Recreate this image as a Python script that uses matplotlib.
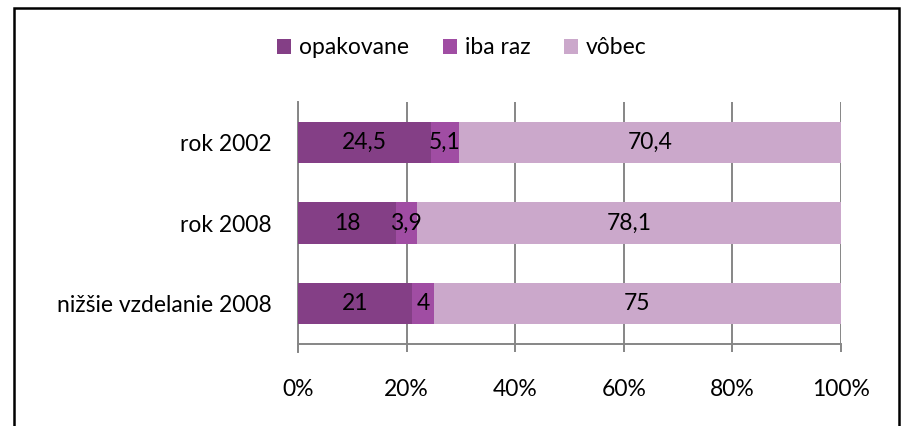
import matplotlib
matplotlib.use("Agg")
import matplotlib.pyplot as plt
from matplotlib.patches import Rectangle, Patch
import numpy as np

categories = ["rok 2002", "rok 2008", "nižšie vzdelanie 2008"]
series_names = ["opakovane", "iba raz", "vôbec"]
opakovane = [24.5, 18, 21]
iba_raz = [5.1, 3.9, 4]
vobec = [70.4, 78.1, 75]
labels_opakovane = ["24,5", "18", "21"]
labels_iba_raz = ["5,1", "3,9", "4"]
labels_vobec = ["70,4", "78,1", "75"]
x_ticks = [0, 20, 40, 60, 80, 100]
x_ticklabels = ["0%", "20%", "40%", "60%", "80%", "100%"]

colors = ["#843F86", "#A04DA3", "#CBA8CB"]
grid_color = "#868686"

plt.rcParams['font.family'] = ['Lato', 'DejaVu Sans']
FS = 16.5

W, H = 901, 426
fig = plt.figure(figsize=(W / 100, H / 100), dpi=100)
ax = fig.add_axes([298 / W, 1 - 344 / H, (841 - 298) / W, (344 - 102) / H])

y = np.arange(len(categories))
data = [opakovane, iba_raz, vobec]
lbls = [labels_opakovane, labels_iba_raz, labels_vobec]
left = np.zeros(len(categories))
for vals, name, col, lab in zip(data, series_names, colors, lbls):
    vals = np.array(vals, dtype=float)
    bars = ax.barh(y, vals, left=left, height=0.51, color=col, label=name, zorder=3)
    for b, t in zip(bars, lab):
        ax.text(b.get_x() + b.get_width() / 2, b.get_y() + b.get_height() / 2, t,
                ha="center", va="center", fontsize=FS, color="black", zorder=4)
    left += vals

ax.set_xlim(0, 100)
ax.set_ylim(2.5, -0.5)
ax.set_yticks(y)
ax.set_yticklabels(categories, fontsize=FS)
ax.set_xticks(x_ticks)
ax.set_xticklabels(x_ticklabels, fontsize=FS)
ax.tick_params(axis="y", length=0, pad=19)
ax.tick_params(axis="x", length=6, width=1.4, color=grid_color, pad=19)
ax.xaxis.grid(True, color=grid_color, linewidth=1.4, zorder=0)
for s in ["top", "right"]:
    ax.spines[s].set_visible(False)
for s in ["left", "bottom"]:
    ax.spines[s].set_color(grid_color)
    ax.spines[s].set_linewidth(1.4)
ax.spines["left"].set_bounds(2.5 + 8 / 80.7, -0.5)

handles = [Patch(facecolor=c, label=n) for c, n in zip(colors, series_names)]
fig.legend(handles=handles, loc="center", bbox_to_anchor=(462 / W, 1 - 48 / H),
           ncol=3, frameon=False, fontsize=FS, handlelength=0.62, handleheight=0.62,
           handletextpad=0.35, columnspacing=1.45)

fig.patches.append(Rectangle((14.5 / W, -0.05), (899 - 14.5) / W, 1 - 7.5 / H + 0.05,
                             transform=fig.transFigure, fill=False, edgecolor="black",
                             linewidth=1.8, zorder=10))

fig.savefig("out.png", dpi=100)
